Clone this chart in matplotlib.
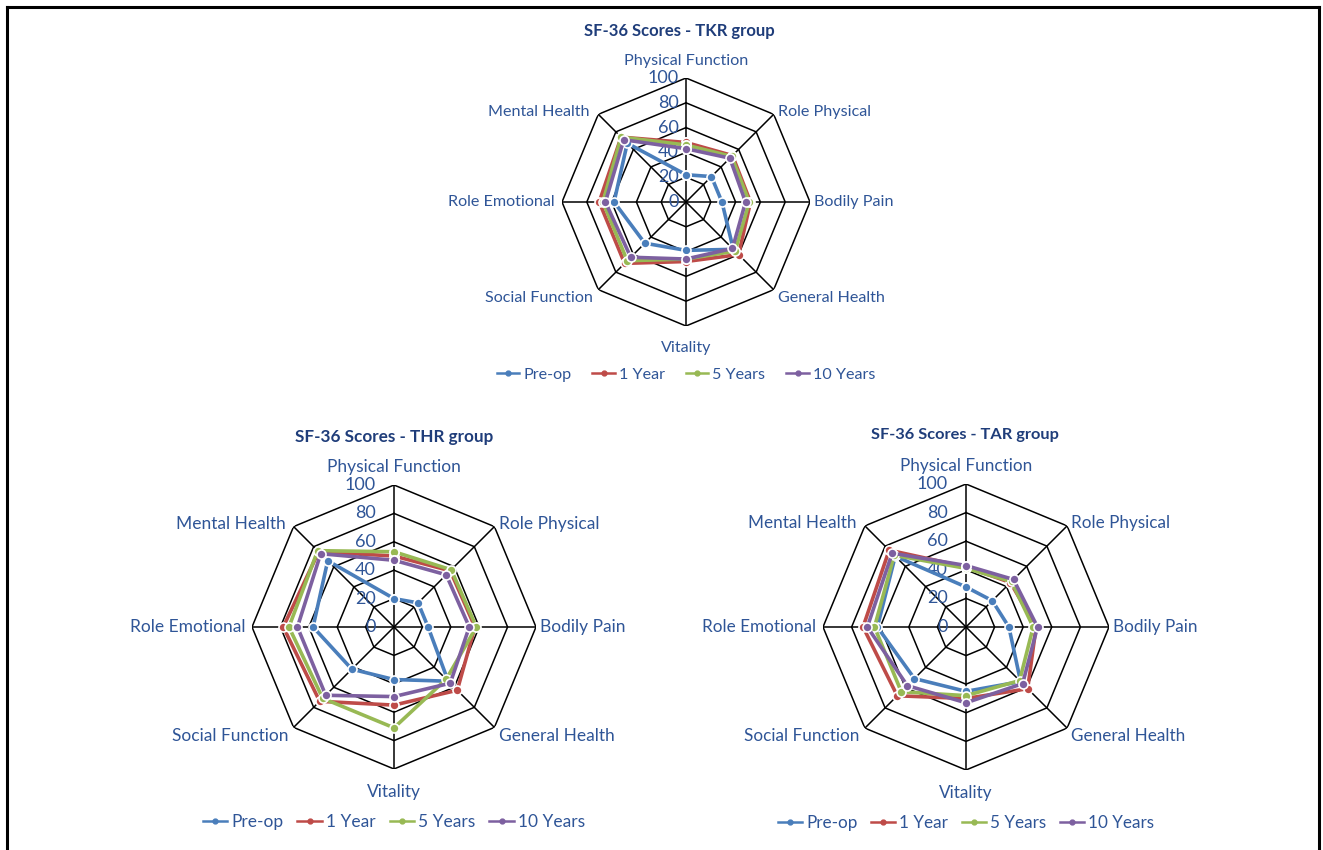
import numpy as np
import matplotlib
matplotlib.use("Agg")
import matplotlib.pyplot as plt
from matplotlib.lines import Line2D

plt.rcParams['font.family'] = ['Lato', 'DejaVu Sans']

categories = ["Physical Function", "Role Physical", "Bodily Pain", "General Health",
              "Vitality", "Social Function", "Role Emotional", "Mental Health"]
series_names = ["Pre-op", "1 Year", "5 Years", "10 Years"]
r_ticks = [0, 20, 40, 60, 80, 100]

tkr_preop = [22, 29, 29, 54, 39, 47, 58, 67]
tkr_1yr = [48, 53, 52, 60, 48, 70, 70, 74]
tkr_5yr = [46, 52, 51, 56, 46, 67, 67, 74]
tkr_10yr = [43, 50, 48, 53, 46, 63, 65, 71]

thr_preop = [20, 24, 24, 54, 37, 42, 57, 66]
thr_1yr = [50, 56, 57, 63, 55, 74, 78, 75]
thr_5yr = [53, 57, 58, 52, 71, 71, 74, 76]
thr_10yr = [47, 52, 53, 56, 49, 68, 68, 73]

tar_preop = [28, 26, 30, 54, 45, 51, 62, 70]
tar_1yr = [42, 44, 49, 61, 50, 68, 72, 76]
tar_5yr = [41, 45, 47, 53, 48, 64, 64, 71]
tar_10yr = [43, 47, 50, 56, 53, 58, 69, 73]

colors = ["#4A7EBB", "#BE4B48", "#98B954", "#7D60A0"]
text_blue = "#2F5597"
title_blue = "#1F3D7A"

W, H = 1323, 850
fig = plt.figure(figsize=(W / 100, H / 100), dpi=100)

# frame around the figure (left, top, right)
fig.add_artist(Line2D([7 / W, 7 / W], [0, 1 - 7 / H], transform=fig.transFigure, color="black", lw=2.2))
fig.add_artist(Line2D([7 / W, 1319 / W], [1 - 7 / H, 1 - 7 / H], transform=fig.transFigure, color="black", lw=2.2))
fig.add_artist(Line2D([1319 / W, 1319 / W], [0, 1 - 7 / H], transform=fig.transFigure, color="black", lw=2.2))

n = len(categories)
angles = np.linspace(0, 2 * np.pi, n, endpoint=False)

# text offsets (points) of each category label from its outer vertex
label_place = {
    0: ("center", "bottom", 0, 7),
    45: ("left", "center", 3, 2),
    90: ("left", "center", 3, 0),
    135: ("left", "center", 3, -6),
    180: ("center", "top", 0, -11),
    225: ("right", "center", -4, -6),
    270: ("right", "center", -5, 0),
    315: ("right", "center", -6, 2),
}


def radar(cx, cy, rad, title, title_x, title_y, data, legend_y, fs, tfs, tick_fs, tick_pad, col_sp):
    ax = fig.add_axes([(cx - rad) / W, 1 - (cy + rad) / H, 2 * rad / W, 2 * rad / H],
                      projection="polar")
    ax.set_theta_offset(np.pi / 2)
    ax.set_theta_direction(-1)
    ax.set_ylim(0, 100)
    ax.grid(False)
    ax.spines["polar"].set_visible(False)
    ax.set_xticks([])
    ax.set_yticks([])
    ax.patch.set_alpha(0)
    ring = np.concatenate([angles, angles[:1]])
    # octagonal grid
    for r in r_ticks[1:]:
        ax.plot(ring, [r] * (n + 1), color="black", lw=1.1, zorder=1)
    for a in angles:
        ax.plot([a, a], [0, 100], color="black", lw=1.1, zorder=1)
    # radial tick labels beside the top spoke
    for r in r_ticks:
        ax.annotate(str(r), xy=(0, r), xytext=(-tick_pad, 0), textcoords="offset points",
                    ha="right", va="center", color=text_blue, fontsize=tick_fs, zorder=2)
    # category labels, placed just outside the outer ring
    for a, lab in zip(angles, categories):
        deg = round(np.degrees(a)) % 360
        ha, va, dx, dy = label_place[deg]
        ax.annotate(lab, xy=(a, 100), xytext=(dx, dy), textcoords="offset points",
                    ha=ha, va=va, color=text_blue, fontsize=fs, annotation_clip=False)
    # series
    for vals, c in zip(data, colors):
        v = list(vals) + [vals[0]]
        ax.plot(ring, v, color=c, lw=2.6, zorder=3,
                marker="o", markersize=6.5, markerfacecolor=c,
                markeredgecolor="white", markeredgewidth=1.2)
    fig.text(title_x / W, 1 - title_y / H, title, ha="center", va="center",
             color=title_blue, fontsize=tfs, fontweight="bold")
    handles = [Line2D([], [], color=c, lw=1.8, marker="o", markersize=3.5) for c in colors]
    fig.legend(handles, series_names, loc="center", ncol=4,
               bbox_to_anchor=(cx / W, 1 - legend_y / H), frameon=False,
               fontsize=fs, handlelength=1.4, handletextpad=0.25, columnspacing=col_sp,
               labelcolor=text_blue)
    return ax


radar(686, 202, 124, "SF-36 Scores - TKR group", 679, 31,
      [tkr_preop, tkr_1yr, tkr_5yr, tkr_10yr], 375, 11.6, 12, 13, 5, 1.3)
radar(394, 627, 142, "SF-36 Scores - THR group", 394, 437,
      [thr_preop, thr_1yr, thr_5yr, thr_10yr], 822, 12.5, 12.3, 13, 13, 0.8)
radar(966, 627, 143, "SF-36 Scores - TAR group", 965, 435,
      [tar_preop, tar_1yr, tar_5yr, tar_10yr], 823, 12.3, 11.8, 13, 13, 0.8)

fig.savefig("out.png", dpi=100, facecolor="white")
